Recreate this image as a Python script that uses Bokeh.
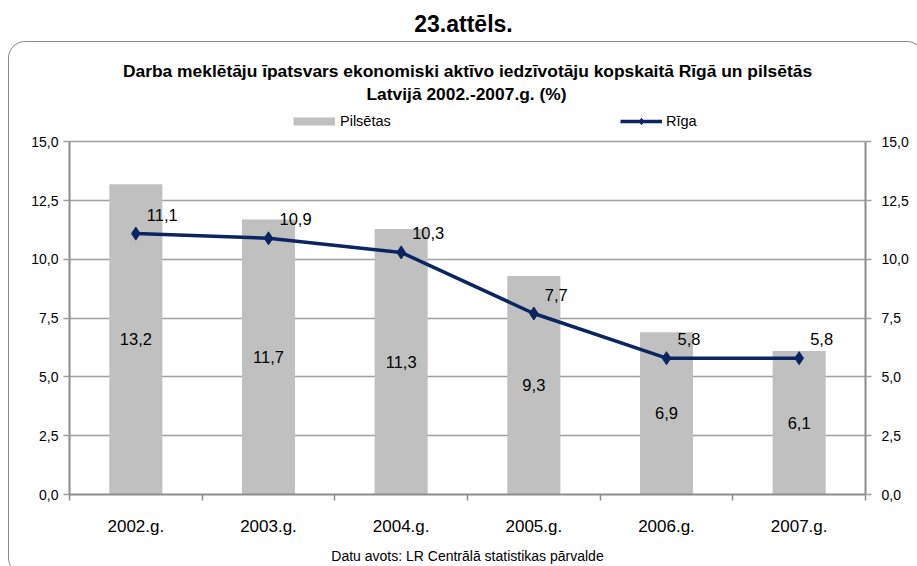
from bokeh.plotting import figure
from bokeh.models import (ColumnDataSource, Range1d, LinearAxis, FixedTicker, CustomJSTickFormatter,
                          Legend, LegendItem, Label, InlineStyleSheet)
from bokeh.core.properties import value
from bokeh.embed import file_html
from bokeh.resources import INLINE

# ---- data ----
years = ["2002.g.", "2003.g.", "2004.g.", "2005.g.", "2006.g.", "2007.g."]
pilsetas = [13.2, 11.7, 11.3, 9.3, 6.9, 6.1]
riga = [11.1, 10.9, 10.3, 7.7, 5.8, 5.8]
y_ticks = [0, 2.5, 5, 7.5, 10, 12.5, 15]
Y_MAX = 15

FONT = "Liberation Sans"
GRID = "#a0a0a0"
AXIS = "#8c8c8c"
NAVY = "#0b2462"
BAR = "#c0c0c0"

# layout (pixels)
W, H = 917, 566
FRAME_H = 496          # frame runs from the top of the canvas down to the x axis
PLOT_H = 354           # height of the 0..15 value band
y_top = Y_MAX * FRAME_H / PLOT_H   # the space above 15 holds titles and legend

def fmt(v):
    return f"{v:.1f}".replace(".", ",")

xc = [i + 0.5 for i in range(len(years))]
src = ColumnDataSource(dict(
    x=xc, pil=pilsetas, pil_half=[v / 2 for v in pilsetas], riga=riga,
    pil_lbl=[fmt(v) for v in pilsetas], riga_lbl=[fmt(v) for v in riga],
))

p = figure(width=W, height=H, output_backend="svg", toolbar_location=None,
           x_range=Range1d(0, len(years)), y_range=Range1d(0, y_top),
           min_border_left=69, min_border_right=52, min_border_top=0, min_border_bottom=H - FRAME_H,
           outline_line_color=None, background_fill_color="white")
p.xaxis.visible = False
p.yaxis.visible = False
p.xgrid.grid_line_color = None
p.ygrid.grid_line_color = GRID
p.ygrid.grid_line_width = 1.5
p.ygrid.ticker = FixedTicker(ticks=y_ticks)

ytick_fmt = CustomJSTickFormatter(code="return tick.toFixed(1).replace('.', ',');")

for side, standoff in (("left", 5), ("right", 10)):
    ax = LinearAxis(ticker=FixedTicker(ticks=y_ticks), formatter=ytick_fmt, bounds=(0, Y_MAX))
    ax.axis_line_color = AXIS
    ax.axis_line_width = 2
    ax.major_tick_line_color = GRID
    ax.major_tick_line_width = 1.5
    ax.major_tick_out = 6
    ax.major_tick_in = 0
    ax.minor_tick_line_color = None
    ax.major_label_standoff = standoff
    ax.major_label_text_font = FONT
    ax.major_label_text_font_size = "14px"
    ax.major_label_text_color = "#000000"
    p.add_layout(ax, side)

xax = LinearAxis(ticker=FixedTicker(ticks=xc, minor_ticks=list(range(len(years) + 1))),
                 formatter=CustomJSTickFormatter(args=dict(labels=years),
                                                 code="return labels[Math.round(tick - 0.5)];"))
xax.axis_line_color = AXIS
xax.axis_line_width = 2
xax.major_tick_line_color = None
xax.minor_tick_line_color = AXIS
xax.minor_tick_line_width = 1.5
xax.minor_tick_out = 6
xax.minor_tick_in = 0
xax.major_label_standoff = 16
xax.major_label_text_font = FONT
xax.major_label_text_font_size = "17px"
xax.major_label_text_color = "#000000"
# the source note sits under the category labels
xax.axis_label = "Datu avots: LR Centrālā statistikas pārvalde"
xax.axis_label_standoff = 9
xax.axis_label_text_font = FONT
xax.axis_label_text_font_size = "14px"
xax.axis_label_text_font_style = "normal"
xax.axis_label_text_color = "#000000"
p.add_layout(xax, "below")

bars = p.vbar(x="x", top="pil", width=0.4, source=src, fill_color=BAR, line_color=None)
line = p.line(x="x", y="riga", source=src, line_color=NAVY, line_width=3.5)
pts = p.scatter(x="x", y="riga", source=src, marker="diamond", size=13,
                fill_color=NAVY, line_color=NAVY)
# legend key for the bars: a single-point line (draws nothing on the plot itself),
# shown in the legend as a thin grey band like the original key
bar_key = p.line(x=xc[:1], y=pilsetas[:1], line_color=BAR, line_width=8, line_cap="butt")

p.text(x="x", y="pil_half", text="pil_lbl", source=src, text_align="center",
       text_baseline="middle", text_font=value(FONT), text_font_size="16.5px", text_color="#000000")
p.text(x="x", y="riga", text="riga_lbl", source=src, text_align="left",
       text_baseline="middle", x_offset=11, y_offset=-19,
       text_font=value(FONT), text_font_size="16.5px", text_color="#000000")

# legends (inside the frame's headroom above 15,0)
def legend(label, rends, x, standoff):
    return Legend(items=[LegendItem(label=label, renderers=rends)], location=(x, FRAME_H - 131),
                  padding=0, margin=0, border_line_color=None, background_fill_alpha=0,
                  glyph_width=42, glyph_height=16, label_height=16, label_standoff=standoff,
                  label_text_font=FONT, label_text_font_size="14.5px", label_text_color="#000000")

p.add_layout(legend("Pilsētas", [bar_key], 224, 5), "center")
p.add_layout(legend("Rīga", [line, pts], 551, 4), "center")

def lab(text, x, y_img, size, bold=True):
    p.add_layout(Label(text=text, x=x, y=FRAME_H - y_img, x_units="screen", y_units="screen",
                       text_align="center", text_baseline="middle", text_font=FONT,
                       text_font_size=size, text_font_style="bold" if bold else "normal",
                       text_color="#000000"))

lab("23.attēls.", 394, 25, "23px")
lab("Darba meklētāju īpatsvars ekonomiski aktīvo iedzīvotāju kopskaitā Rīgā un pilsētās", 398, 72, "17.4px")
lab("Latvijā 2002.-2007.g. (%)", 397, 95, "17.4px")

# rounded chart border (starts below the figure number, runs past the window edges)
p.stylesheets = [InlineStyleSheet(css="""
:host { overflow: hidden; }
:host::after { content: ""; position: absolute; left: 8px; top: 41px; width: 916px; height: 534px;
  border: 1.5px solid #8a8a8a; border-radius: 17px; pointer-events: none; box-sizing: border-box; }
""")]

open("out.html", "w").write(file_html(p, INLINE))
